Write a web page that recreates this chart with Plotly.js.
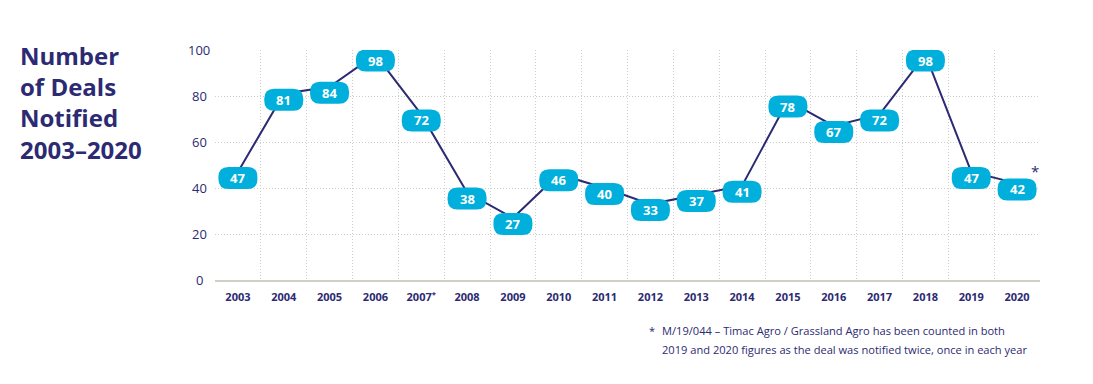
<!DOCTYPE html>
<html>
<head>
<meta charset="utf-8">
<script src="https://cdn.plot.ly/plotly-3.0.1.min.js"></script>
<style>html,body{margin:0;padding:0;background:#fff;}#chart{width:1093px;height:384px;}</style>
</head>
<body>
<div id="chart"></div>
<script>
// ---- data ----
const years = ["2003","2004","2005","2006","2007","2008","2009","2010","2011","2012","2013","2014","2015","2016","2017","2018","2019","2020"];
const deals = [47, 81, 84, 98, 72, 38, 27, 46, 40, 33, 37, 41, 78, 67, 72, 98, 47, 42];
const yearLabels = ["2003","2004","2005","2006","2007<sup>*</sup>","2008","2009","2010","2011","2012","2013","2014","2015","2016","2017","2018","2019","2020"];
const yTicks = [0, 20, 40, 60, 80, 100];
const titleLines = ["Number", "of Deals", "Notified", "2003–2020"];
const footnoteLines = [
  "M/19/044 – Timac Agro / Grassland Agro has been counted in both",
  "2019 and 2020 figures as the deal was notified twice, once in each year"
];

// ---- style ----
const NAVY = "#2c2a72";
const CYAN = "#00afdb";
const FONT = "Open Sans, sans-serif";
const GRID = "#cdcdcd";

const xIdx = years.map((_, i) => i);
const gridX = [];
for (let i = 0; i <= years.length; i++) gridX.push(i - 0.5);

// rounded badge path in pixels relative to anchor (positive y = up)
function badgePath(w, h, r, dy) {
  const t = dy + h, b = dy - h;
  return `M ${-w + r},${t} L ${w - r},${t} Q ${w},${t} ${w},${t - r} L ${w},${b + r} Q ${w},${b} ${w - r},${b} ` +
         `L ${-w + r},${b} Q ${-w},${b} ${-w},${b + r} L ${-w},${t - r} Q ${-w},${t} ${-w + r},${t} Z`;
}
const BADGE_DY = -6;
const shapes = deals.map((v, i) => ({
  type: "path", layer: "above",
  xref: "x", yref: "y", xsizemode: "pixel", ysizemode: "pixel",
  xanchor: i, yanchor: v,
  path: badgePath(19.5, 11, 10, BADGE_DY),
  fillcolor: CYAN, line: { width: 0 }
}));

const annotations = [];
deals.forEach((v, i) => annotations.push({
  x: i, y: v, xref: "x", yref: "y", text: String(v), showarrow: false,
  yshift: BADGE_DY, font: { family: FONT, size: 13, color: "#ffffff", weight: 700 }
}));
yTicks.forEach(t => annotations.push({
  x: 0, y: t, xref: "paper", yref: "y", xshift: -16, xanchor: "center", yanchor: "middle",
  text: String(t), showarrow: false, font: { family: FONT, size: 13, color: NAVY }
}));
annotations.push({
  x: 0, y: 1, xref: "paper", yref: "paper", xshift: -197, yshift: 13, xanchor: "left", yanchor: "top",
  align: "left", showarrow: false, text: titleLines.join("<br>"),
  font: { family: FONT, size: 24, color: NAVY, weight: 700 }
});
// asterisk next to 2020 badge
annotations.push({
  x: years.length - 1, y: deals[deals.length - 1], xref: "x", yref: "y", xshift: 18, yshift: 12,
  text: "*", showarrow: false, font: { family: FONT, size: 15, color: NAVY }
});
// footnote
annotations.push({
  x: 0, y: 0, xref: "paper", yref: "paper", xshift: 432, yshift: -50, xanchor: "left", yanchor: "middle",
  text: "*", showarrow: false, font: { family: FONT, size: 11, color: NAVY }
});
footnoteLines.forEach((line, k) => annotations.push({
  x: 0, y: 0, xref: "paper", yref: "paper", xshift: 445, yshift: -50 - 19 * k, xanchor: "left", yanchor: "middle",
  text: line, showarrow: false, font: { family: FONT, size: 11.1, color: NAVY }
}));

const trace = {
  x: xIdx, y: deals, type: "scatter", mode: "lines",
  line: { color: NAVY, width: 2 }, hoverinfo: "skip"
};

const layout = {
  width: 1093, height: 384,
  margin: { l: 215, r: 53, t: 50, b: 104 },
  paper_bgcolor: "#ffffff", plot_bgcolor: "#ffffff",
  showlegend: false,
  xaxis: {
    range: [-0.5, years.length - 0.5],
    tickmode: "array", tickvals: xIdx, ticktext: yearLabels,
    showgrid: false, zeroline: false,
    showline: true, linecolor: "#cfcfc6", linewidth: 2,
    ticks: "", ticklabelstandoff: 6,
    tickfont: { family: FONT, size: 11, color: NAVY, weight: 700 },
    minor: { tickmode: "array", tickvals: gridX, showgrid: true, gridcolor: GRID, gridwidth: 1, griddash: "1px,2px", ticks: "" }
  },
  yaxis: {
    range: [0, 100],
    tickmode: "array", tickvals: yTicks,
    showticklabels: false,
    showgrid: true, gridcolor: GRID, gridwidth: 1, griddash: "1px,2px",
    zeroline: false, showline: false
  },
  shapes: shapes,
  annotations: annotations
};

Plotly.newPlot("chart", [trace], layout, { displayModeBar: false, staticPlot: true });
</script>
</body>
</html>
